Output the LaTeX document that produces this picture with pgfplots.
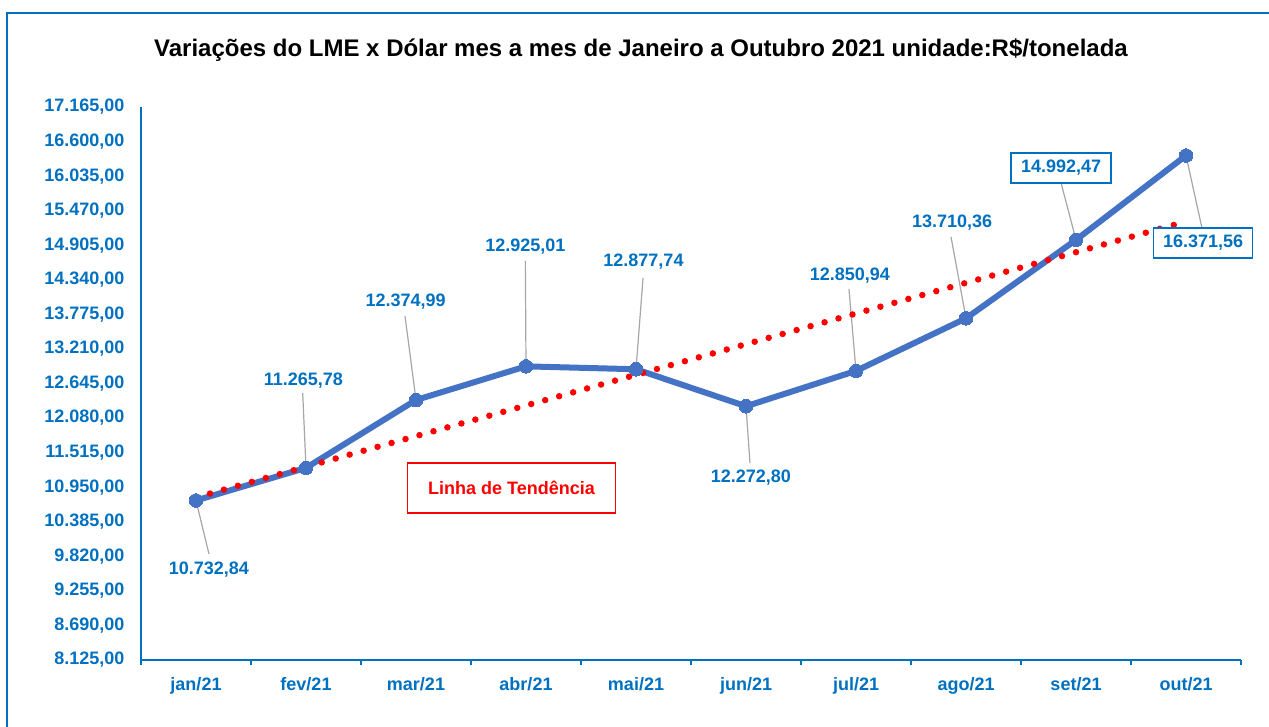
\documentclass[border=0pt]{standalone}
\usepackage{pgfplots}
\pgfplotsset{compat=1.18}
\usepackage{fontspec}
\setmainfont{Liberation Sans}
\definecolor{lblue}{HTML}{0070C0}
\definecolor{lineblue}{HTML}{4472C4}
\definecolor{leader}{HTML}{A6A6A6}
\definecolor{tred}{HTML}{FF0000}
\begin{document}
\begin{tikzpicture}[x=1pt,y=1pt]
\useasboundingbox (0,0) rectangle (1269,727);
\draw[lblue, line width=1.3pt] (7,-5) -- (7,714) -- (1275,714);
\node[font=\fontsize{24}{26}\selectfont\bfseries, text=black] at (641,677) {Variações do LME x Dólar mes a mes de Janeiro a Outubro 2021 unidade:R\$/tonelada};
\begin{axis}[
  at={(141pt,67pt)}, anchor=south west,
  scale only axis, width=1100pt, height=553pt,
  xmin=-0.5, xmax=9.5, ymin=8125, ymax=17165,
  axis x line*=bottom, axis y line*=left,
  axis line style={lblue, line width=1.3pt, -},
  xtick={0,...,9},
  xticklabels={jan/21,fev/21,mar/21,abr/21,mai/21,jun/21,jul/21,ago/21,set/21,out/21},
  minor xtick={-0.5,0.5,...,9.5},
  ytick={8125,8690,9255,9820,10385,10950,11515,12080,12645,13210,13775,14340,14905,15470,16035,16600,17165},
  scaled y ticks=false,
  major tick length=0pt, minor tick length=5pt,
  tick align=outside,
  minor tick style={lblue, line width=1.3pt},
  ticklabel style={font=\fontsize{18}{20}\selectfont\bfseries, text=lblue},
  xticklabel style={yshift=-14pt},
  yticklabel style={xshift=-13pt},
  /pgf/number format/.cd, fixed, fixed zerofill, precision=2, use comma, assume math mode=true,
  /pgfplots/.cd,
  clip=false,
]
% leader lines
\draw[leader, line width=1.2pt] (axis cs:0,10732.84) -- (axis cs:0.118,9858);
\draw[leader, line width=1.2pt] (axis cs:1,11265.78) -- (axis cs:0.970,12490);
\draw[leader, line width=1.2pt] (axis cs:2,12374.99) -- (axis cs:1.9,13749);
\draw[leader, line width=1.2pt] (axis cs:3,12925.01) -- (axis cs:2.994,14648);
\draw[leader, line width=1.2pt] (axis cs:4,12877.74) -- (axis cs:4.064,14370);
\draw[leader, line width=1.2pt] (axis cs:5,12272.80) -- (axis cs:5.036,11346);
\draw[leader, line width=1.2pt] (axis cs:6,12850.94) -- (axis cs:5.936,14190);
\draw[leader, line width=1.2pt] (axis cs:7,13710.36) -- (axis cs:6.864,15040);
\draw[leader, line width=1.2pt] (axis cs:8,14992.47) -- (axis cs:7.864,15923);
\draw[leader, line width=1.2pt] (axis cs:9,16371.56) -- (axis cs:9.145,15187);
% main series
\addplot[lineblue, line width=6pt, mark=*, mark size=6.8pt, mark options={fill=lineblue, draw=lineblue, line width=0pt}] coordinates {
(0,10732.84) (1,11265.78) (2,12374.99) (3,12925.01) (4,12877.74)
(5,12272.80) (6,12850.94) (7,13710.36) (8,14992.47) (9,16371.56)};
% trend line
\addplot[tred, line width=6.5pt, line cap=round, dash pattern=on 0pt off 14.5pt] coordinates {(0,10782.41) (9,15292.49)};
% labels
\tikzset{lab/.style={font=\fontsize{18}{20}\selectfont\bfseries, text=lblue, inner sep=0pt}}
\node[lab] at (axis cs:0.118,9596) {10.732,84};
\node[lab] at (axis cs:0.977,12686) {11.265,78};
\node[lab] at (axis cs:1.905,13978) {12.374,99};
\node[lab] at (axis cs:2.995,14877) {12.925,01};
\node[lab] at (axis cs:4.068,14632) {12.877,74};
\node[lab] at (axis cs:5.045,11100) {12.272,80};
\node[lab] at (axis cs:5.945,14403) {12.850,94};
\node[lab] at (axis cs:6.873,15269) {13.710,36};
\node[lab, draw=lblue, fill=white, line width=1.3pt, minimum width=100pt, minimum height=30pt] at (axis cs:7.864,16168) {14.992,47};
\node[lab, draw=lblue, fill=white, line width=1.3pt, minimum width=99pt, minimum height=30pt] at (axis cs:9.155,14942) {16.371,56};
\node[font=\fontsize{18}{20}\selectfont\bfseries, text=tred, draw=tred, line width=1.3pt, minimum width=208pt, minimum height=50pt, fill=white] at (axis cs:2.868,10937) {Linha de Tendência};
\end{axis}
\end{tikzpicture}
\end{document}
